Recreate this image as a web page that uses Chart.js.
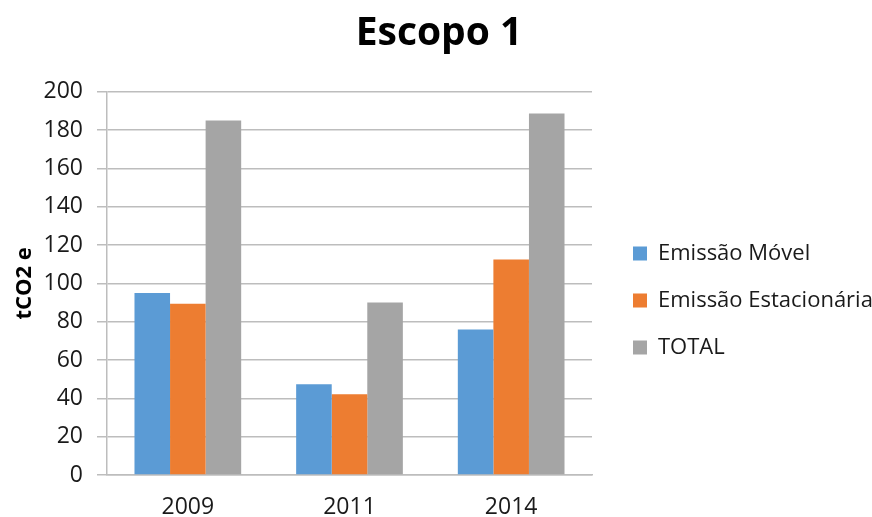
<!DOCTYPE html>
<html>
<head>
<meta charset="utf-8">
<script src="https://cdn.jsdelivr.net/npm/chart.js@4"></script>
<style>
  body { margin: 0; background: #fff; }
  canvas { display: block; }
</style>
</head>
<body>
<canvas id="chart" width="872" height="517"></canvas>
<script>
const years = ["2009", "2011", "2014"];
const movel = [95, 47.4, 76];
const estacionaria = [89.4, 42.2, 112.5];
const total = [185, 90, 188.7];
const yTicks = [0, 20, 40, 60, 80, 100, 120, 140, 160, 180, 200];

const font = "'Open Sans', 'Noto Sans', sans-serif";
const gridColor = "#bdbdbd";

// legend takes a fixed width, then its items get nudged right/down
const legendShift = {
  id: "legendShift",
  afterInit(chart) {
    const lg = chart.legend;
    const origFit = lg.fit;
    lg.fit = function () {
      origFit.call(this);
      this.width = 278;
    };
  },
  afterLayout(chart) {
    const lg = chart.legend;
    lg.left += 16; lg.right += 16;
    lg.top += 17; lg.bottom += 17;
  }
};

new Chart(document.getElementById("chart").getContext("2d"), {
  type: "bar",
  data: {
    labels: years,
    datasets: [
      { label: "Emissão Móvel", data: movel, backgroundColor: "#5b9bd5" },
      { label: "Emissão Estacionária", data: estacionaria, backgroundColor: "#ed7d31" },
      { label: "TOTAL", data: total, backgroundColor: "#a5a5a5" }
    ]
  },
  options: {
    responsive: false,
    animation: false,
    datasets: { bar: { categoryPercentage: 0.66, barPercentage: 1 } },
    layout: { padding: { left: 8, right: 2, top: 0, bottom: 0 } },
    plugins: {
      title: {
        display: true,
        text: "Escopo 1",
        color: "#000",
        font: { family: font, size: 39, weight: "bold" },
        padding: { top: 10, bottom: 35 }
      },
      legend: {
        position: "right",
        fullSize: false,
        labels: {
          color: "#1a1a1a",
          font: { family: font, size: 22 },
          boxWidth: 14,
          boxHeight: 14,
          padding: 25
        }
      },
      tooltip: { enabled: false }
    },
    scales: {
      x: {
        afterFit(axis) { axis.height = 42; },
        grid: { display: false, drawTicks: false },
        border: { display: true, color: gridColor, width: 1.5 },
        ticks: { color: "#1a1a1a", font: { family: font, size: 23 }, padding: 19 }
      },
      y: {
        min: 0,
        max: 200,
        afterBuildTicks(axis) { axis.ticks = yTicks.map(v => ({ value: v })); },
        afterFit(axis) { axis.width = 99; },
        grid: { color: gridColor, lineWidth: 1.5, tickLength: 10 },
        border: { display: true, color: gridColor, width: 1.5 },
        ticks: { color: "#1a1a1a", font: { family: font, size: 23 }, padding: 14 },
        title: {
          display: true,
          text: "tCO2 e",
          color: "#000",
          font: { family: font, size: 22, weight: "bold" },
          padding: { top: 4, bottom: 0 }
        }
      }
    }
  },
  plugins: [legendShift]
});
</script>
</body>
</html>
